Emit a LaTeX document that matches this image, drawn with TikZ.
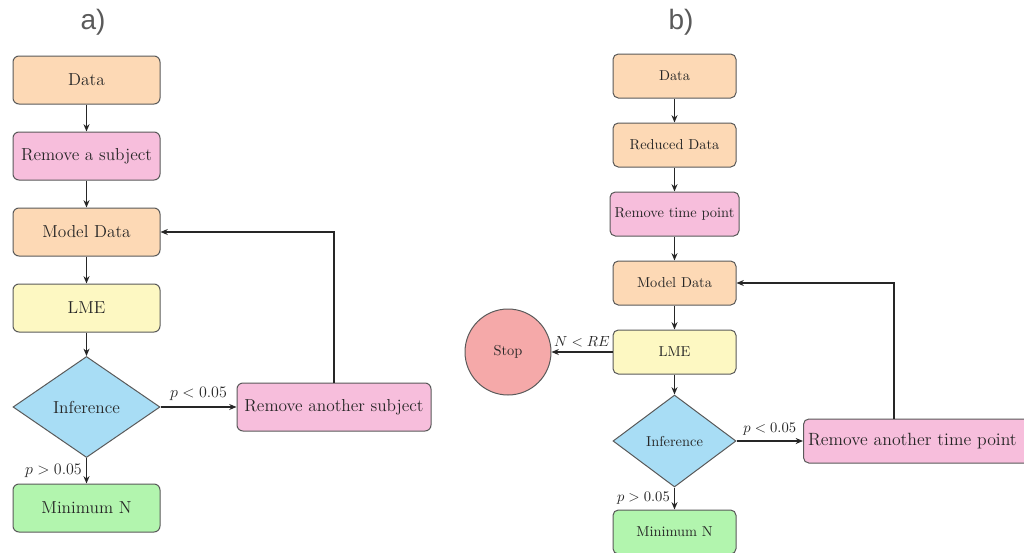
\documentclass[tikz,border=0pt]{standalone}
\usepackage{fontspec}
\newfontfamily\titlefont{Liberation Sans}
\usetikzlibrary{shapes.geometric,arrows.meta}

\definecolor{peach}{HTML}{FDD9B5}
\definecolor{rose}{HTML}{F7BEDC}
\definecolor{lemon}{HTML}{FDF8C2}
\definecolor{sky}{HTML}{A8DDF5}
\definecolor{mint}{HTML}{B2F5AE}
\definecolor{coral}{HTML}{F5A9A9}
\definecolor{edge}{HTML}{5A5A5A}
\definecolor{ink}{HTML}{262626}

\tikzset{
  base/.style={draw=edge, line width=0.75pt, text=ink, align=center, inner sep=2pt},
  boxa/.style={base, rectangle, rounded corners=4.5pt,
    minimum width=147*0.75pt, minimum height=48*0.75pt, font=\fontsize{13}{15}\selectfont},
  boxb/.style={base, rectangle, rounded corners=4pt,
    minimum width=123*0.75pt, minimum height=44*0.75pt, font=\fontsize{10.8}{12}\selectfont},
  decia/.style={base, diamond, inner sep=0pt,
    minimum width=147*0.75pt, minimum height=101*0.75pt, font=\fontsize{13}{15}\selectfont, fill=sky},
  decib/.style={base, diamond, inner sep=0pt,
    minimum width=123*0.75pt, minimum height=92*0.75pt, font=\fontsize{10.8}{12}\selectfont, fill=sky},
  flow/.style={draw=ink, line width=1pt, -{Stealth[length=5.5pt,width=4.5pt]}},
  lbla/.style={text=ink, font=\fontsize{13}{15}\selectfont, inner sep=3pt},
  lblb/.style={text=ink, font=\fontsize{10.8}{12}\selectfont, inner sep=3pt},
  paneltitle/.style={text=edge, font=\titlefont\fontsize{21}{24}\selectfont}
}

\begin{document}
\begin{tikzpicture}[x=0.75pt, y=-0.75pt]
\clip (0,0) rectangle (1024,553);
\fill[white] (0,0) rectangle (1024,553);

% ---------- panel a ----------
\node[paneltitle] (ta) at (93,22) {a)};
\node[boxa, fill=peach] (a1) at (86.5,80)  {Data};
\node[boxa, fill=rose]  (a2) at (86.5,156) {Remove a subject};
\node[boxa, fill=peach] (a3) at (86.5,232) {Model Data};
\node[boxa, fill=lemon] (a4) at (86.5,308) {LME};
\node[decia]            (a5) at (86.5,407) {Inference};
\node[boxa, fill=mint]  (a6) at (86.5,508) {Minimum N};
\node[boxa, fill=rose, minimum width=194*0.75pt] (a7) at (334,407) {Remove another subject};

\draw[flow] (a1) -- (a2);
\draw[flow] (a2) -- (a3);
\draw[flow] (a3) -- (a4);
\draw[flow] (a4) -- (a5);
\draw[flow] (a5) -- node[lbla, left, pos=0.5] {$p>0.05$} (a6);
\draw[flow] (a5) -- node[lbla, above, pos=0.5, yshift=1pt] {$p<0.05$} (a7);
\draw[flow] (a7.north) |- (a3.east);

% ---------- panel b ----------
\node[paneltitle] (tb) at (681,22) {b)};
\node[boxb, fill=peach] (b1) at (674.5,76)  {Data};
\node[boxb, fill=peach] (b2) at (674.5,145) {Reduced Data};
\node[boxb, fill=rose, minimum width=129*0.75pt] (b3) at (674.5,214) {Remove time point};
\node[boxb, fill=peach] (b4) at (674.5,283) {Model Data};
\node[boxb, fill=lemon] (b5) at (674.5,352) {LME};
\node[base, circle, fill=coral, minimum size=86*0.75pt, font=\fontsize{10.8}{12}\selectfont] (stop) at (508,352) {Stop};
\node[decib]            (b6) at (674.5,441) {Inference};
\node[boxb, fill=mint]  (b7) at (674.5,532) {Minimum N};
\node[boxb, fill=rose, anchor=west, inner xsep=3.5pt, minimum width=0pt, text width=232*0.75pt, align=left,
      font=\fontsize{13.3}{15}\selectfont] (b8) at (803,441) {Remove another time point};
\coordinate (loopb) at (894,419);

\draw[flow] (b1) -- (b2);
\draw[flow] (b2) -- (b3);
\draw[flow] (b3) -- (b4);
\draw[flow] (b4) -- (b5);
\draw[flow] (b5) -- (b6);
\draw[flow] (b5) -- node[lblb, above, pos=0.5] {$N<RE$} (stop);
\draw[flow] (b6) -- node[lblb, above, pos=0.5, yshift=1pt] {$p<0.05$} (b8);
\draw[flow] (b6) -- node[lblb, left, pos=0.5] {$p>0.05$} (b7);
\draw[flow] (loopb) |- (b4.east);
\end{tikzpicture}
\end{document}
